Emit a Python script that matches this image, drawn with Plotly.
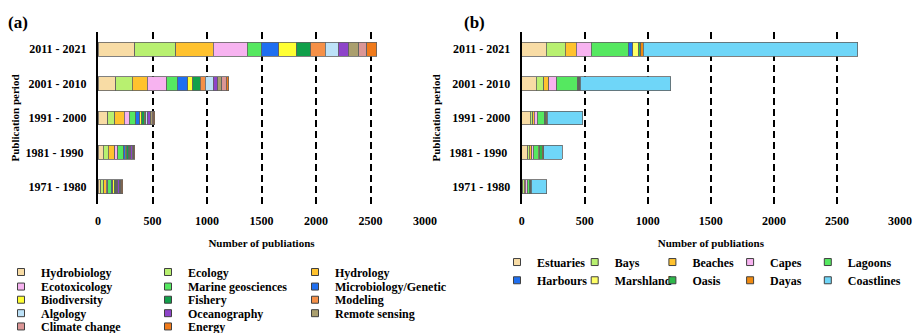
import plotly.graph_objects as go

periods = ["1971 - 1980", "1981 - 1990\u00a0", "1991 - 2000", "2001 - 2010", "2011 - 2021"]

topics = ["Hydrobiology", "Ecology", "Hydrology", "Ecotoxicology", "Marine geosciences",
          "Microbiology/Genetic", "Biodiversity", "Fishery", "Modeling", "Algology",
          "Oceanography", "Remote sensing", "Climate change", "Energy"]
hydrobiology = [24, 48, 91, 161, 336]
ecology = [27, 45, 64, 155, 376]
hydrology = [24, 61, 85, 136, 345]
ecotoxicology = [15, 27, 48, 179, 312]
marine_geosciences = [30, 55, 58, 97, 130]
microbiology = [15, 15, 39, 94, 158]
biodiversity = [12, 12, 18, 45, 164]
fishery = [18, 18, 21, 70, 130]
modeling = [9, 9, 15, 48, 136]
algology = [9, 9, 15, 70, 115]
oceanography = [15, 15, 30, 45, 97]
remote_sensing = [9, 9, 15, 36, 91]
climate_change = [6, 6, 9, 42, 76]
energy = [12, 9, 12, 21, 91]
topic_values = [hydrobiology, ecology, hydrology, ecotoxicology, marine_geosciences,
                 microbiology, biodiversity, fishery, modeling, algology,
                 oceanography, remote_sensing, climate_change, energy]
topic_colors = ["#F8DCA5", "#B8F070", "#FFC22E", "#F7B3F0", "#55E860", "#1F6FF0",
                "#FFFF33", "#11A04A", "#F59048", "#BDE2F8", "#8E44C9", "#AA9F6E",
                "#DB9696", "#F07A1A"]

sites = ["Estuaries", "Bays", "Beaches", "Capes", "Lagoons",
         "Harbours", "Marshland", "Oasis", "Dayas", "Coastlines"]
estuaries = [8, 48, 66, 114, 193]
bays = [13, 13, 21, 61, 151]
beaches = [8, 18, 13, 40, 87]
capes = [16, 13, 24, 63, 119]
lagoons = [13, 40, 58, 167, 296]
harbours = [0, 0, 3, 3, 34]
marshland = [3, 8, 3, 3, 48]
oasis = [10, 21, 8, 10, 16]
dayas = [5, 13, 5, 5, 21]
coastlines = [124, 146, 283, 714, 1700]
site_values = [estuaries, bays, beaches, capes, lagoons,
               harbours, marshland, oasis, dayas, coastlines]
site_colors = ["#F8DCA5", "#B8F070", "#FFC22E", "#F7B3F0", "#55E860",
               "#1F6FF0", "#FFFF66", "#2DB84A", "#F08A10", "#6FD6F8"]

x_ticks = [0, 500, 1000, 1500, 2000, 2500, 3000]

FONT = "Liberation Serif"
W, H = 915, 333

ML = 98
MT = 32
MB = H - 204.5
MR = W - 900
PW = W - ML - MR
PH = H - MT - MB


def px_x(p):
    return (p - ML) / PW


def px_y(p):
    return (H - MB - p) / PH


fig = go.Figure()

left_rows_y = [272.7, 287.3, 300.5, 314, 327.3]
right_rows_y = [262.7, 281]

for i, (name, vals, col) in enumerate(zip(topics, topic_values, topic_colors)):
    leg = "legend" if i // 3 == 0 else f"legend{i // 3 + 1}"
    last_in_row = (i % 3 == 2) or i == len(topics) - 1
    fig.add_trace(go.Bar(
        y=periods, x=vals, name=name, orientation="h",
        marker=dict(color=col, line=dict(color="#606060", width=0.8)),
        xaxis="x", yaxis="y", showlegend=False, legendgroup=name))
    fig.add_trace(go.Scatter(
        x=[None], y=[None], mode="markers", name=name, legend=leg, legendgroup=name,
        legendwidth=125 if last_in_row else None,
        marker=dict(symbol="square", size=7, color=col, line=dict(color="#404040", width=1)),
        xaxis="x", yaxis="y", showlegend=True))

for i, (name, vals, col) in enumerate(zip(sites, site_values, site_colors)):
    leg = f"legend{6 + i // 5}"
    last_in_row = i % 5 == 4
    fig.add_trace(go.Bar(
        y=periods, x=vals, name=name, orientation="h",
        marker=dict(color=col, line=dict(color="#606060", width=0.8)),
        xaxis="x2", yaxis="y2", showlegend=False, legendgroup="s" + name))
    fig.add_trace(go.Scatter(
        x=[None], y=[None], mode="markers", name=name, legend=leg, legendgroup="s" + name,
        legendwidth=60 if last_in_row else None,
        marker=dict(symbol="square", size=7, color=col, line=dict(color="#404040", width=1)),
        xaxis="x2", yaxis="y2", showlegend=True))

tickfont = dict(family=FONT, size=12, color="black", weight="bold")
titlefont = dict(family=FONT, size=11, color="black", weight="bold")
legfont = dict(family=FONT, size=12, color="black", weight="bold")

xcommon = dict(range=[0, 3000], tickvals=x_ticks, showgrid=True, gridcolor="black",
               gridwidth=1.5, griddash="7px,4px", zeroline=False, showline=False,
               ticks="", tickfont=tickfont, ticklabelstandoff=8, fixedrange=True,
               title=dict(text="Number of publiations", font=titlefont, standoff=12))
ycommon = dict(range=[-0.5, 4.5], type="category", categoryorder="array", categoryarray=periods,
               showline=True, linecolor="black", linewidth=2, showgrid=False, ticks="",
               tickfont=tickfont, ticklabelstandoff=7, zeroline=False, fixedrange=True)

layout = dict(
    width=W, height=H, margin=dict(l=ML, r=MR, t=MT, b=MB, autoexpand=False),
    plot_bgcolor="white", paper_bgcolor="white", barmode="stack", bargap=0.594,
    xaxis=dict(domain=[0, px_x(425)], anchor="y", **xcommon),
    xaxis2=dict(domain=[px_x(521.7), 1], anchor="y2", **xcommon),
    yaxis=dict(domain=[0, 1], anchor="x",
               title=dict(text="Publication period", font=titlefont, standoff=4), **ycommon),
    yaxis2=dict(domain=[0, 1], anchor="x2",
                title=dict(text="Publication period", font=titlefont, standoff=6), **ycommon),
    annotations=[
        dict(text="(a)", xref="paper", yref="paper", x=px_x(6), y=px_y(22), xanchor="left",
             yanchor="middle", showarrow=False, font=dict(family=FONT, size=17, color="black", weight="bold")),
        dict(text="(b)", xref="paper", yref="paper", x=px_x(462), y=px_y(22), xanchor="left",
             yanchor="middle", showarrow=False, font=dict(family=FONT, size=17, color="black", weight="bold")),
    ],
)

for r, py in enumerate(left_rows_y):
    key = "legend" if r == 0 else f"legend{r + 1}"
    layout[key] = dict(orientation="h", x=px_x(28 - 27), y=px_y(py), xanchor="left", yanchor="middle",
                       entrywidth=102, entrywidthmode="pixels", font=legfont,
                       bgcolor="rgba(0,0,0,0)", borderwidth=0, tracegroupgap=0,
                       itemclick=False, itemdoubleclick=False)
for r, py in enumerate(right_rows_y):
    key = f"legend{6 + r}"
    layout[key] = dict(orientation="h", x=px_x(525 - 28), y=px_y(py), xanchor="left", yanchor="middle",
                       entrywidth=32.7, entrywidthmode="pixels", font=legfont,
                       bgcolor="rgba(0,0,0,0)", borderwidth=0, tracegroupgap=0,
                       itemclick=False, itemdoubleclick=False)

fig.update_layout(**layout)
fig.write_html(
    "out.html",
    config={"displayModeBar": False},
    post_script="document.body.style.margin='0';document.body.style.padding='0';"
                "document.body.style.overflow='hidden';",
)
